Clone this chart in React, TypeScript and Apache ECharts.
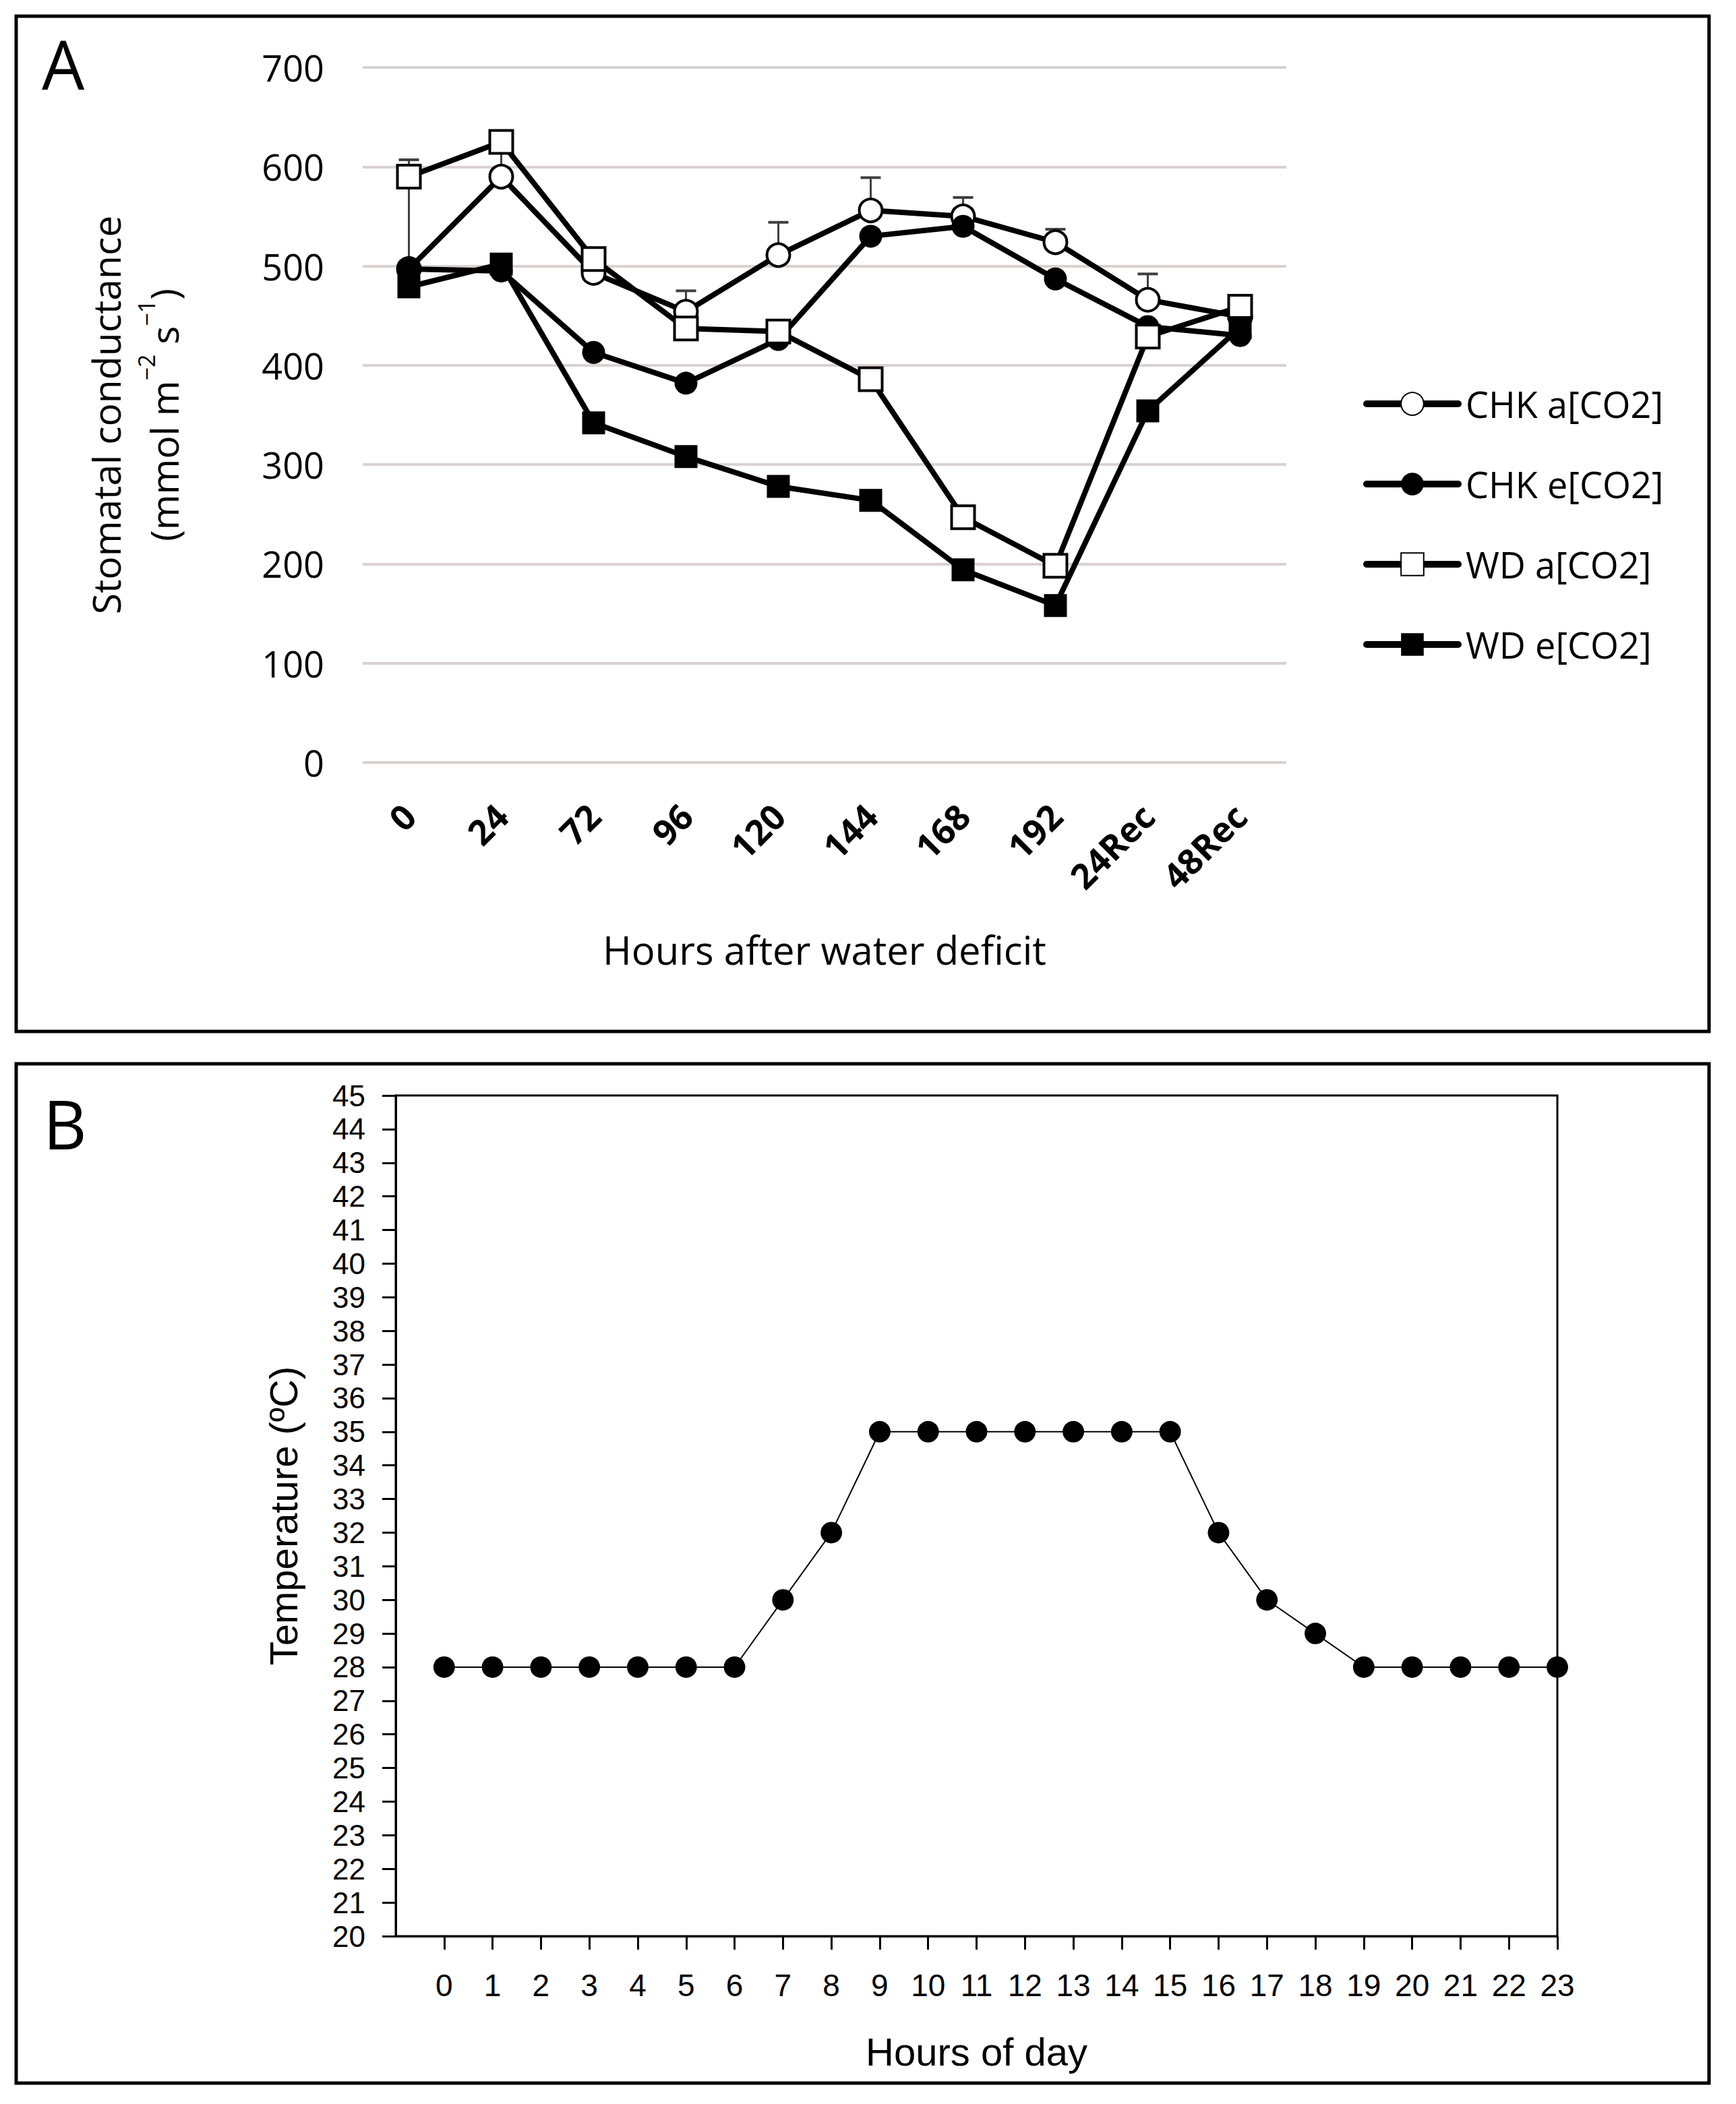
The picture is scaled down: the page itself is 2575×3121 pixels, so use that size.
import React, { useEffect, useRef } from "react";
import * as echarts from "echarts";

// ---- Panel A data ----
const hoursA = ["0", "24", "72", "96", "120", "144", "168", "192", "24Rec", "48Rec"];
const chkA = [497, 590, 493, 454, 511, 556, 550, 524, 466, 449];
const chkAErr = [110, 28, 12, 21, 33, 33, 19, 13, 26, 10];
const chkE = [497, 495, 413, 382, 426, 530, 540, 487, 439, 430];
const wdA = [590, 625, 507, 437, 434, 386, 247, 198, 429, 459];
const wdE = [479, 502, 342, 308, 278, 264, 194, 158, 354, 438];
const seriesNamesA = ["CHK a[CO2]", "CHK e[CO2]", "WD a[CO2]", "WD e[CO2]"];

// ---- Panel B data ----
const hoursB = [0, 1, 2, 3, 4, 5, 6, 7, 8, 9, 10, 11, 12, 13, 14, 15, 16, 17, 18, 19, 20, 21, 22, 23];
const tempsB = [28, 28, 28, 28, 28, 28, 28, 30, 32, 35, 35, 35, 35, 35, 35, 35, 32, 30, 29, 28, 28, 28, 28, 28];

const FA = "'Open Sans', 'Noto Sans', sans-serif";
const FB = "'Liberation Sans', Arial, sans-serif";

export default function App() {
  const ref = useRef<HTMLDivElement>(null);
  useEffect(() => {
    if (!ref.current) return;
    const chart = echarts.init(ref.current, null, { renderer: "svg" });
    const lineA = (name: string, data: number[], symbol: string, open: boolean) => ({
      name,
      type: "line",
      xAxisIndex: 0,
      yAxisIndex: 0,
      data,
      symbol,
      symbolSize: 34,
      z: 3,
      lineStyle: { color: "#000", width: 8 },
      itemStyle: open
        ? { color: "#fff", borderColor: "#000", borderWidth: 4 }
        : { color: "#000", borderColor: "#000", borderWidth: 0 },
      emphasis: { disabled: true },
    });
    const option: any = {
      animation: false,
      backgroundColor: "#fff",
      grid: [
        { left: 538, top: 100, width: 1370, height: 1031 },
        { left: 587, top: 1625, width: 1723, height: 1247, show: true, borderColor: "#000", borderWidth: 3, backgroundColor: "transparent" },
      ],
      legend: {
        data: seriesNamesA,
        orient: "vertical",
        left: 2017,
        top: 567,
        itemWidth: 136,
        itemHeight: 42,
        itemGap: 65,
        lineStyle: { width: 10, cap: "round" },
        textStyle: { fontFamily: FA, fontSize: 54, color: "#000", padding: [0, 0, 0, 6] },
        selectedMode: false,
      },
      xAxis: [
        {
          type: "category",
          gridIndex: 0,
          data: hoursA,
          axisLine: { show: false },
          axisTick: { show: false },
          axisLabel: { rotate: 45, interval: 0, fontFamily: FA, fontWeight: "bold", fontSize: 52, color: "#000", margin: 70 },
          name: "Hours after water deficit",
          nameLocation: "middle",
          nameGap: 248,
          nameTextStyle: { fontFamily: FA, fontSize: 58, color: "#000" },
        },
        {
          type: "value",
          gridIndex: 1,
          min: -1,
          max: 23,
          interval: 1,
          splitLine: { show: false },
          axisLine: { onZero: false, lineStyle: { color: "#000", width: 3 } },
          axisTick: { length: 20, inside: false, lineStyle: { color: "#000", width: 3 }, customValues: hoursB },
          axisLabel: { customValues: hoursB, fontFamily: FB, fontSize: 46, color: "#000", margin: 50 },
          name: "Hours of day",
          nameLocation: "middle",
          nameGap: 142,
          nameTextStyle: { fontFamily: FB, fontSize: 58, color: "#000" },
        },
      ],
      yAxis: [
        {
          type: "value",
          gridIndex: 0,
          min: 0,
          max: 700,
          interval: 100,
          axisLine: { show: false },
          axisTick: { show: false },
          splitLine: { lineStyle: { color: "#d9d2cf", width: 4 } },
          axisLabel: { fontFamily: FA, fontSize: 54, color: "#000", margin: 57 },
          name: "{a|Stomatal conductance}\n{a|(mmol m}{s|\u22122}{a| s}{s|\u22121}{a|)}",
          nameLocation: "middle",
          nameGap: 252,
          nameTextStyle: {
            rich: {
              a: { fontFamily: FA, fontSize: 57, color: "#000", lineHeight: 86 },
              s: { fontFamily: FA, fontSize: 34, color: "#000", lineHeight: 44, verticalAlign: "top" },
            },
          },
        },
        {
          type: "value",
          gridIndex: 1,
          min: 20,
          max: 45,
          interval: 1,
          splitLine: { show: false },
          axisLine: { onZero: false, lineStyle: { color: "#000", width: 3 } },
          axisTick: { length: 20, inside: false, lineStyle: { color: "#000", width: 3 } },
          axisLabel: { fontFamily: FB, fontSize: 44, color: "#000", margin: 45 },
          name: "Temperature (\u00BAC)",
          nameLocation: "middle",
          nameGap: 138,
          nameTextStyle: { fontFamily: FB, fontSize: 58, color: "#000" },
        },
      ],
      series: [
        {
          type: "custom",
          name: "errA",
          xAxisIndex: 0,
          yAxisIndex: 0,
          z: 1,
          data: hoursA.map((_, i) => [i, chkA[i], chkA[i] + chkAErr[i]]),
          encode: { x: 0, y: [1, 2] },
          renderItem: (params: any, api: any) => {
            const p = api.coord([api.value(0), api.value(1)]);
            const t = api.coord([api.value(0), api.value(2)]);
            return {
              type: "group",
              children: [
                { type: "line", shape: { x1: p[0], y1: p[1], x2: p[0], y2: t[1] }, style: { stroke: "#404040", lineWidth: 3 } },
                { type: "line", shape: { x1: p[0] - 15, y1: t[1], x2: p[0] + 15, y2: t[1] }, style: { stroke: "#404040", lineWidth: 4 } },
              ],
            };
          },
        },
        lineA(seriesNamesA[0], chkA, "circle", true),
        lineA(seriesNamesA[1], chkE, "circle", false),
        lineA(seriesNamesA[2], wdA, "rect", true),
        lineA(seriesNamesA[3], wdE, "rect", false),
        {
          name: "Temperature",
          type: "line",
          xAxisIndex: 1,
          yAxisIndex: 1,
          data: hoursB.map((h, i) => [h, tempsB[i]]),
          symbol: "circle",
          symbolSize: 32,
          lineStyle: { color: "#000", width: 2 },
          itemStyle: { color: "#000" },
          emphasis: { disabled: true },
        },
      ],
      graphic: [
        { type: "rect", shape: { x: 24, y: 24, width: 2511, height: 1506 }, style: { fill: "none", stroke: "#000", lineWidth: 5 } },
        { type: "rect", shape: { x: 24, y: 1578, width: 2511, height: 1512 }, style: { fill: "none", stroke: "#000", lineWidth: 5 } },
        { type: "text", x: 62, y: 44, style: { text: "A", fontFamily: FA, fontSize: 100, fill: "#000" } },
        { type: "text", x: 64, y: 1616, style: { text: "B", fontFamily: FA, fontSize: 100, fill: "#000" } },
      ],
    };
    chart.setOption(option);
    return () => chart.dispose();
  }, []);
  return <div ref={ref} style={{ position: "absolute", left: 0, top: 0, width: 2575, height: 3121 }} />;
}
